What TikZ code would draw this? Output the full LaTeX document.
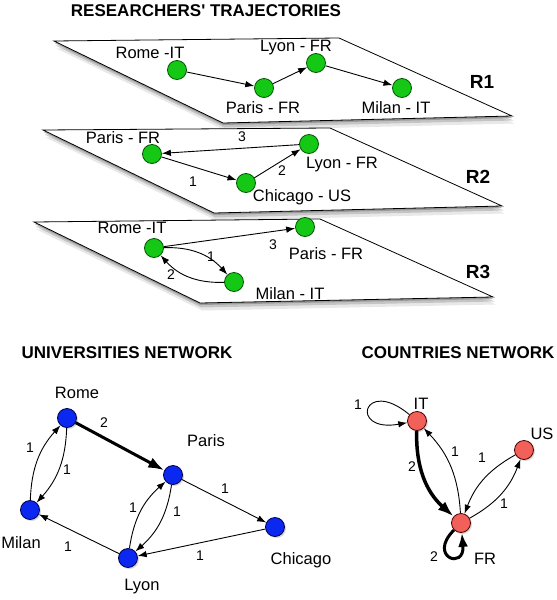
\documentclass[tikz,border=0pt]{standalone}
\usepackage{fontspec}
\setmainfont{Liberation Sans}
\usetikzlibrary{arrows.meta,shadows}

\definecolor{stopgreen}{RGB}{22,200,22}
\definecolor{unifill}{RGB}{10,40,240}
\definecolor{landfill}{RGB}{242,96,90}

\begin{document}
\begin{tikzpicture}[x=1pt,y=-1pt,
    every node/.style={font=\fontsize{16.5}{18}\selectfont},
    plane/.style={draw,fill=white,line width=.8pt,
        drop shadow={shadow xshift=.5pt,shadow yshift=-2pt,opacity=.6},
        drop shadow={shadow xshift=1.5pt,shadow yshift=-4.5pt,opacity=.35},
        drop shadow={shadow xshift=2.5pt,shadow yshift=-7.5pt,opacity=.18}},
    nodeshadow/.style={drop shadow={shadow xshift=1.5pt,shadow yshift=-1.5pt,opacity=.3}},
    stop/.style={circle,draw=green!35!black,fill=stopgreen,minimum size=19pt,inner sep=0pt,line width=.8pt},
    uni/.style={circle,draw=blue!30!black,fill=unifill,minimum size=19pt,inner sep=0pt,line width=.8pt,nodeshadow},
    land/.style={circle,draw=red!30!black,fill=landfill,minimum size=19pt,inner sep=0pt,line width=.8pt,nodeshadow},
    trip/.style={-{Latex[length=9pt,width=6.5pt]},line width=.9pt},
    heavy/.style={-{Latex[length=16pt,width=11pt]},line width=3pt},
    wlabel/.style={font=\fontsize{14}{16}\selectfont},
    title/.style={font=\fontsize{17}{19}\selectfont\bfseries},
    tag/.style={font=\fontsize{19}{21}\selectfont\bfseries}]
    \useasboundingbox (0,0) rectangle (557,600);

    \node[title] (ttraj) at (206,11) {RESEARCHERS\textquotesingle{} TRAJECTORIES};

    % R1
    \path[plane] (54,41) -- (339,38) -- (512,116) -- (223,123) -- cycle;
    \node[stop] (r1rome) at (177,70) {};
    \node[stop] (r1paris) at (264,88) {};
    \node[stop] (r1lyon) at (316,63) {};
    \node[stop] (r1milan) at (402,88) {};
    \node (r1romel) at (150,53) {Rome -IT};
    \node (r1parisl) at (263,108) {Paris - FR};
    \node (r1lyonl) at (296,48) {Lyon - FR};
    \node (r1milanl) at (396,108) {Milan - IT};
    \node[tag] (r1tag) at (482,82) {R1};
    \draw[trip] (r1rome) -- (r1paris);
    \draw[trip] (r1paris) -- (r1lyon);
    \draw[trip] (r1lyon) -- (r1milan);

    % R2
    \path[plane] (43,130) -- (330,128) -- (502,206) -- (214,213) -- cycle;
    \node[stop] (r2paris) at (152,154) {};
    \node[stop] (r2lyon) at (309,144) {};
    \node[stop] (r2chicago) at (246,183) {};
    \node (r2parisl) at (123,138) {Paris - FR};
    \node (r2lyonl) at (342,165) {Lyon - FR};
    \node (r2chicagol) at (302,197) {Chicago - US};
    \node[tag] (r2tag) at (478,177) {R2};
    \draw[trip] (r2paris) -- (r2chicago);
    \draw[trip] (r2chicago) -- (r2lyon);
    \draw[trip] (r2lyon) -- (r2paris);
    \node[wlabel] (r2w1) at (193,182) {1};
    \node[wlabel] (r2w2) at (282,171) {2};
    \node[wlabel] (r2w3) at (242,137) {3};

    % R3
    \path[plane] (34,222) -- (320,219) -- (493,297) -- (200,303) -- cycle;
    \node[stop] (r3rome) at (154,248) {};
    \node[stop] (r3paris) at (305,227) {};
    \node[stop] (r3milan) at (234,282) {};
    \node (r3romel) at (132,228) {Rome -IT};
    \node (r3parisl) at (326,254) {Paris - FR};
    \node (r3milanl) at (290,294) {Milan - IT};
    \node[tag] (r3tag) at (478,272) {R3};
    \draw[trip] (r3rome) -- (r3paris);
    \draw[trip] (r3rome) to[bend left=25] (r3milan);
    \draw[trip] (r3milan) to[bend left=25] (r3rome);
    \node[wlabel] (r3w3) at (273,245) {3};
    \node[wlabel] (r3w1) at (211,257) {1};
    \node[wlabel] (r3w2) at (171,275) {2};

    % universities
    \node[title] (tuni) at (127,353) {UNIVERSITIES NETWORK};
    \node[uni] (rome) at (67,418) {};
    \node[uni] (paris) at (173,475) {};
    \node[uni] (milan) at (30,510) {};
    \node[uni] (lyon) at (128,558) {};
    \node[uni] (chicago) at (275,527) {};
    \node (romel) at (77,393) {Rome};
    \node (parisl) at (206,441) {Paris};
    \node (milanl) at (21,543) {Milan};
    \node (lyonl) at (142,587) {Lyon};
    \node (chicagol) at (301,560) {Chicago};
    \draw[heavy] (rome) -- (paris);
    \draw[trip] (milan) to[bend left=20] (rome);
    \draw[trip] (rome) to[bend left=20] (milan);
    \draw[trip] (lyon) to[bend left=20] (paris);
    \draw[trip] (paris) to[bend left=20] (lyon);
    \draw[trip] (paris) -- (chicago);
    \draw[trip] (chicago) -- (lyon);
    \draw[trip] (lyon) -- (milan);
    \node[wlabel] (uw1) at (104,423) {2};
    \node[wlabel] (uw2) at (30,448) {1};
    \node[wlabel] (uw3) at (67,470) {1};
    \node[wlabel] (uw4) at (133,508) {1};
    \node[wlabel] (uw5) at (177,512) {1};
    \node[wlabel] (uw6) at (225,489) {1};
    \node[wlabel] (uw7) at (200,556) {1};
    \node[wlabel] (uw8) at (68,547) {1};

    % countries
    \node[title] (tland) at (458,353) {COUNTRIES NETWORK};
    \node[land] (it) at (417,421) {};
    \node[land] (us) at (524,450) {};
    \node[land] (fr) at (461,523) {};
    \node (itl) at (421,404) {IT};
    \node (usl) at (542,434) {US};
    \node (frl) at (485,559) {FR};
    \draw[trip] (it) to[out=140,in=190,min distance=60pt] (it);
    \draw[heavy,line width=3.5pt] (it) to[bend right=25] (fr);
    \draw[trip] (fr) to[bend right=20] (it);
    \draw[trip] (us) to[bend right=20] (fr);
    \draw[trip] (fr) to[bend right=20] (us);
    \draw[line width=3pt,-{Latex[length=14pt,width=10pt]}] (fr) to[out=225,in=275,min distance=38pt] (fr);
    \node[wlabel] (cw1) at (358,405) {1};
    \node[wlabel] (cw2) at (412,467) {2};
    \node[wlabel] (cw3) at (455,452) {1};
    \node[wlabel] (cw4) at (482,458) {1};
    \node[wlabel] (cw5) at (504,504) {1};
    \node[wlabel] (cw6) at (434,557) {2};
\end{tikzpicture}
\end{document}
